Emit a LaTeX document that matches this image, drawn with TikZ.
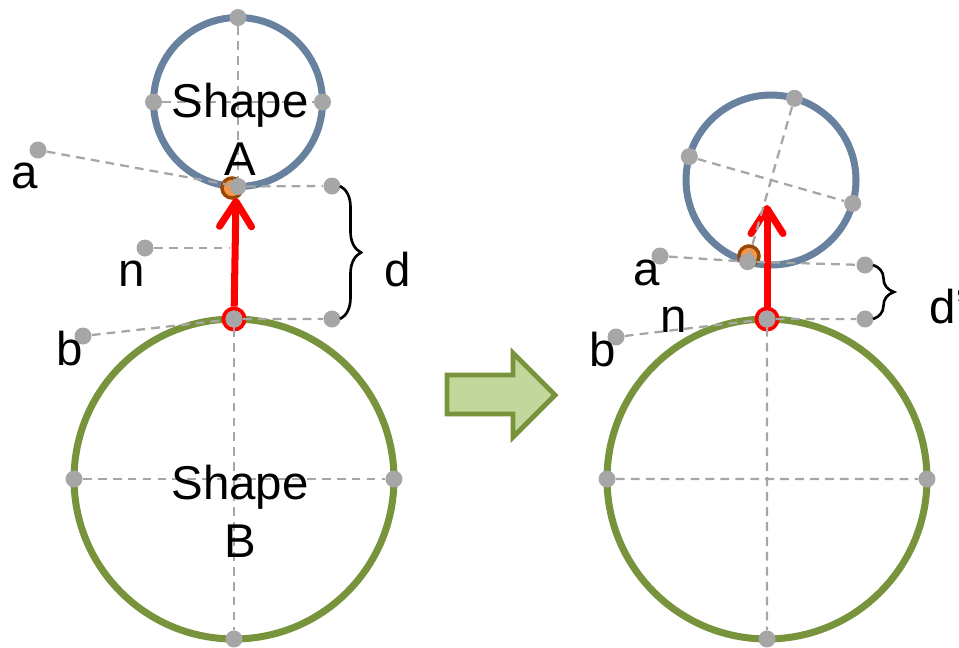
\documentclass[tikz,border=0pt]{standalone}
\usepackage{fontspec}
\setmainfont{Liberation Sans}
\usepackage{xcolor}
\usepackage{tikz}
\usetikzlibrary{arrows.meta, positioning, decorations.pathreplacing}

\definecolor{ringgreen}{RGB}{119,147,60}
\definecolor{ringblue}{RGB}{104,129,158}
\definecolor{dotgrey}{RGB}{166,166,166}
\definecolor{arrowfill}{RGB}{195,214,155}
\definecolor{pivotbrown}{RGB}{152,72,7}
\definecolor{pivotorange}{RGB}{247,150,70}

\begin{document}
\begin{tikzpicture}[x=0.02cm, y=-0.02cm,
    ring/.style={circle, draw, line width=4pt, inner sep=0pt, outer sep=0pt},
    gdot/.style={circle, fill=dotgrey, inner sep=0pt, minimum size=0.34cm},
    guide/.style={dotgrey, line width=1.3pt, dash pattern=on 5pt off 3.5pt},
    pivot/.style={circle, draw=pivotbrown, fill=pivotorange, line width=2pt, inner sep=0pt, minimum size=0.4cm},
    contact/.style={circle, draw=red, line width=2.2pt, inner sep=0pt, minimum size=0.42cm},
    push/.style={red, line width=4pt, -{Straight Barb[length=0.5cm, width=0.64cm, line cap=round, round]}},
    lbl/.style={font=\fontsize{27}{33}\selectfont, inner sep=0pt},
    brc/.style={decorate, decoration={brace, amplitude=0.42cm}, line width=1.5pt}]
        \useasboundingbox (0,0) rectangle (959,647);
%
        % before
        \node[ring, draw=ringgreen, minimum size=6.4cm] (B) at (234,479) {};
        \node[ring, draw=ringblue, minimum size=3.38cm] (A) at (238,102) {};
        \node[pivot] (pA) at (232,188) {};
        \node[contact] (cB) at (B.north) {};
        \coordinate (tipA) at (236,198);
        \coordinate (nE) at (230,248);
        \draw[push] (cB) -- (tipA);
%
        \node[gdot] (At) at (A.north) {};
        \node[gdot] (Ab) at (A.south) {};
        \node[gdot] (Al) at (A.west) {};
        \node[gdot] (Ar) at (A.east) {};
        \node[gdot] (Bt) at (B.north) {};
        \node[gdot] (Bb) at (B.south) {};
        \node[gdot] (Bl) at (B.west) {};
        \node[gdot] (Br) at (B.east) {};
        \node[gdot] (dA) at (332,186) {};
        \node[gdot] (dB) at (332,319) {};
        \node[gdot] (aL) at (38,150) {};
        \node[gdot] (nL) at (145,248) {};
        \node[gdot] (bL) at (83,336) {};
%
        \draw[guide] (At) -- (Ab) (Al) -- (Ar) (Bt) -- (Bb) (Bl) -- (Br);
        \draw[guide] (aL) -- (Ab) -- (dA);
        \draw[guide] (nL) -- (nE);
        \draw[guide] (bL) -- (Bt) -- (dB);
        \draw[brc] ([xshift=0.16cm]dA.center) -- ([xshift=0.16cm]dB.center);
%
        \node[lbl, align=center] (sA) at (240,129) {Shape\\A};
        \node[lbl, align=center] (sB) at (240,511) {Shape\\B};
        \node[lbl] (la) at (25,176) {a};
        \node[lbl] (ln) at (132,274) {n};
        \node[lbl] (lb) at (70,349) {b};
        \node[lbl] (ld) at (398,270) {d};
%
        % big arrow
        \draw[draw=ringgreen, fill=arrowfill, line width=2.8pt]
            (447,375) -- (513,375) -- (513,353) -- (555,395) -- (513,437) -- (513,414) -- (447,414) -- cycle;
%
        % after
        \node[ring, draw=ringgreen, minimum size=6.4cm] (B2) at (767,479) {};
        \node[ring, draw=ringblue, minimum size=3.4cm] (A2) at (771,180) {};
        \node[pivot] (pA2) at (749,256) {};
        \node[contact] (cB2) at (B2.north) {};
        \coordinate (tipA2) at (767,205);
        \draw[push] (cB2) -- (tipA2);
%
        \node[gdot] (A2t) at (A2.74) {};
        \node[gdot] (A2b) at (A2.254) {};
        \node[gdot] (A2l) at (A2.164) {};
        \node[gdot] (A2r) at (A2.-16) {};
        \node[gdot] (B2t) at (B2.north) {};
        \node[gdot] (B2b) at (B2.south) {};
        \node[gdot] (B2l) at (B2.west) {};
        \node[gdot] (B2r) at (B2.east) {};
        \node[gdot] (dA2) at (865,265) {};
        \node[gdot] (dB2) at (865,319) {};
        \node[gdot] (aL2) at (660,256) {};
        \node[gdot] (bL2) at (616,337) {};
%
        \draw[guide] (A2t) -- (A2b) (A2l) -- (A2r) (B2t) -- (B2b) (B2l) -- (B2r);
        \draw[guide] (aL2) -- (A2b) -- (dA2);
        \draw[guide] (bL2) -- (B2t) -- (dB2);
        \draw[brc] ([xshift=0.16cm]dA2.center) -- ([xshift=0.16cm]dB2.center);
%
        \node[lbl] (la2) at (647,273) {a};
        \node[lbl] (ln2) at (674,320) {n};
        \node[lbl] (lb2) at (603,350) {b};
        \node[lbl, anchor=west] (ld2) at (929,307) {d'};
\end{tikzpicture}
\end{document}
